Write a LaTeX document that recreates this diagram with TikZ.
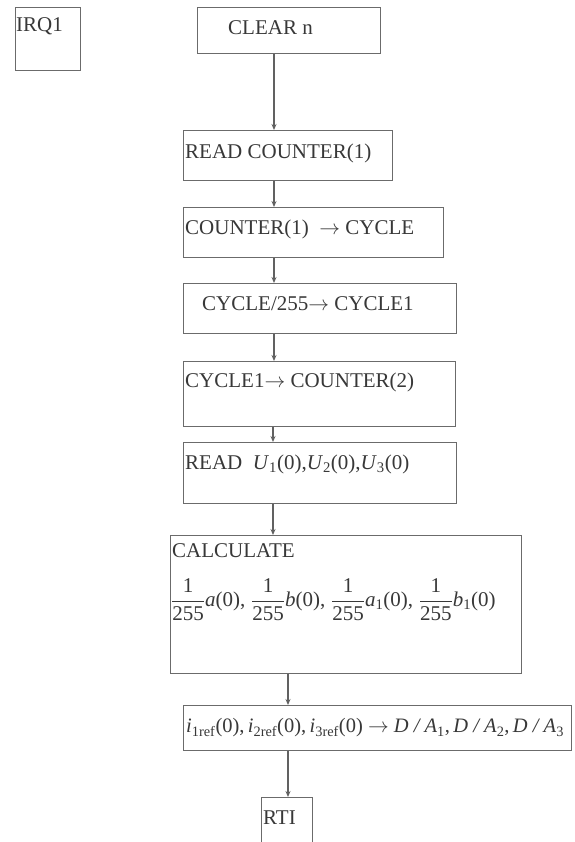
\documentclass[tikz,border=0pt]{standalone}
\usepackage{fontspec}
\setmainfont{Liberation Serif}
\usetikzlibrary{arrows.meta}
\newcommand{\vi}[1]{\textit{#1}}
\newcommand{\fr}{$\displaystyle\frac{\mbox{1}}{\mbox{255}}$}
\begin{document}
\begin{tikzpicture}[x=1pt,y=-1pt,
  box/.style={draw=black!58, line width=1.4pt, rectangle, inner sep=0pt, anchor=north west},
  txt/.style={anchor=west, inner sep=0pt, text=black!78, font=\fontsize{21}{24}\selectfont},
  arr/.style={draw=black!62, line width=1.3pt, -{Stealth[length=6pt,width=5pt]}}]
\useasboundingbox (0,0) rectangle (574,842);
\fill[white] (0,0) rectangle (574,842);
\begin{scope}
\clip (0,0) rectangle (574,842);
% boxes
\node[box, minimum width=65pt,  minimum height=63pt]  (irq)   at (15,7)   {};
\node[box, minimum width=183pt, minimum height=46pt]  (clear) at (197,7)  {};
\node[box, minimum width=209pt, minimum height=50pt]  (read)  at (183,130) {};
\node[box, minimum width=260pt, minimum height=50pt]  (ccyc)  at (183,207) {};
\node[box, minimum width=273pt, minimum height=50pt]  (c255)  at (183,283) {};
\node[box, minimum width=272pt, minimum height=65pt]  (c1)    at (183,361) {};
\node[box, minimum width=273pt, minimum height=61pt]  (readu) at (183,442) {};
\node[box, minimum width=351pt, minimum height=138pt] (calc)  at (170,535) {};
\node[box, minimum width=388pt, minimum height=45pt]  (out)   at (183,705) {};
\node[box, minimum width=51pt,  minimum height=60pt]  (rti)   at (261,797) {};
% texts
\node[txt] (tirq)   at (16,26)   {IRQ1};
\node[txt] (tclear) at (228,28)  {CLEAR n};
\node[txt] (tread)  at (185,153) {READ COUNTER(1)};
\node[txt] (tccyc)  at (185,229) {COUNTER(1)~~$\rightarrow$~CYCLE};
\node[txt] (tc255)  at (202,304) {CYCLE/255$\rightarrow$~CYCLE1};
\node[txt] (tc1)    at (185,382) {CYCLE1$\rightarrow$~COUNTER(2)};
\node[txt] (treadu) at (185,464) {READ~~\vi{U}\textsubscript{1}(0),\vi{U}\textsubscript{2}(0),\vi{U}\textsubscript{3}(0)};
\node[txt] (tcalc)  at (172,551) {CALCULATE};
\node[txt] (tfrac)  at (171,600) {\fr\vi{a}(0),\;\fr\vi{b}(0),\;\fr\vi{a}\textsubscript{1}(0),\;\fr\vi{b}\textsubscript{1}(0)};
\node[txt, font=\fontsize{20.5}{24}\selectfont] (tout) at (186,728) {\vi{i}\textsubscript{1ref}(0),\,\vi{i}\textsubscript{2ref}(0),\,\vi{i}\textsubscript{3ref}(0)~$\rightarrow$~\vi{D / A}\textsubscript{1},\,\vi{D / A}\textsubscript{2},\,\vi{D / A}\textsubscript{3}};
\node[txt] (trti)   at (263,818) {RTI};
% connectors
\coordinate (ax1) at (274,0);
\coordinate (ax2) at (273,0);
\coordinate (ax3) at (288,0);
\draw[arr] (clear.south -| ax1) -- (read.north -| ax1);
\draw[arr] (read.south -| ax1)  -- (ccyc.north -| ax1);
\draw[arr] (ccyc.south -| ax1)  -- (c255.north -| ax1);
\draw[arr] (c255.south -| ax1)  -- (c1.north -| ax1);
\draw[arr] (c1.south -| ax2)    -- (readu.north -| ax2);
\draw[arr] (readu.south -| ax2) -- (calc.north -| ax2);
\draw[arr] (calc.south -| ax3)  -- (out.north -| ax3);
\draw[arr] (out.south -| ax3)   -- (rti.north -| ax3);
\end{scope}
\end{tikzpicture}
\end{document}
